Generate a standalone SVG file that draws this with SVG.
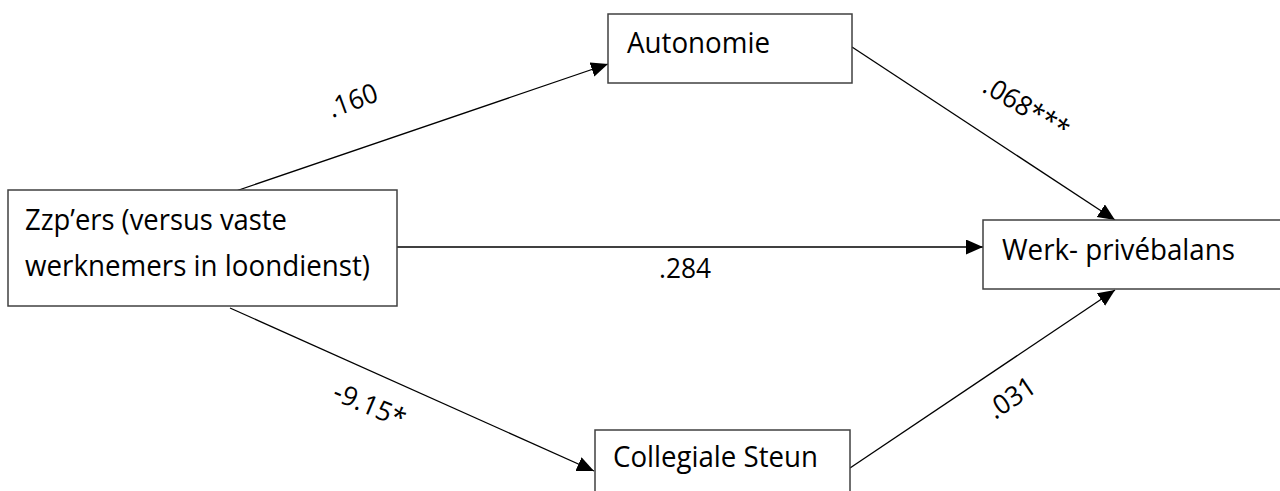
<svg xmlns="http://www.w3.org/2000/svg" width="1280" height="491" viewBox="0 0 1280 491">
<style>
.box{fill:#fff;stroke:#404040;stroke-width:1.5}
.txt{font-family:"Open Sans","Noto Sans",sans-serif;font-size:29px;fill:#000}
.lbl{font-family:"Open Sans","Noto Sans",sans-serif;font-size:27px;fill:#000}
.con{stroke:#000;stroke-width:1.3;fill:none;marker-end:url(#ah)}
</style>
<defs>
<marker id="ah" markerUnits="userSpaceOnUse" markerWidth="18" markerHeight="16" refX="17" refY="7.5" orient="auto">
<path d="M0,0 L17,7.5 L0,15 z" fill="#000"/>
</marker>
</defs>
<rect width="1280" height="491" fill="#fff"/>
<g id="connectors">
<line class="con" x1="230" y1="193" x2="608" y2="64"/>
<line class="con" x1="852" y1="47" x2="1115" y2="220"/>
<line class="con" x1="397" y1="247" x2="983" y2="247"/>
<line class="con" x1="230" y1="308" x2="594" y2="471"/>
<line class="con" x1="850" y1="468" x2="1115" y2="290"/>
</g>
<g id="zzp">
<rect class="box" x="8" y="190" width="389" height="116"/>
<text class="txt" x="25" y="230" textLength="262" lengthAdjust="spacingAndGlyphs">Zzp’ers (versus vaste</text>
<text class="txt" x="25" y="276" textLength="345" lengthAdjust="spacingAndGlyphs">werknemers in loondienst)</text>
</g>
<g id="autonomie">
<rect class="box" x="608" y="14" width="244" height="69"/>
<text class="txt" x="627" y="53" textLength="143" lengthAdjust="spacingAndGlyphs">Autonomie</text>
</g>
<g id="werk">
<rect class="box" x="983" y="220" width="310" height="69"/>
<text class="txt" x="1002" y="260" textLength="233" lengthAdjust="spacingAndGlyphs">Werk- privébalans</text>
</g>
<g id="collegiale">
<rect class="box" x="595" y="430" width="255" height="80"/>
<text class="txt" x="613" y="467" textLength="205" lengthAdjust="spacingAndGlyphs">Collegiale Steun</text>
</g>
<g id="labels">
<text class="lbl" transform="translate(332,118) rotate(-20)" textLength="51" lengthAdjust="spacingAndGlyphs">.160</text>
<text class="lbl" transform="translate(981,91) rotate(31)" textLength="95" lengthAdjust="spacingAndGlyphs">.068***</text>
<text class="lbl" x="659" y="278" textLength="52" lengthAdjust="spacingAndGlyphs">.284</text>
<text class="lbl" transform="translate(331,399) rotate(23)" textLength="76" lengthAdjust="spacingAndGlyphs">-9.15*</text>
<text class="lbl" transform="translate(995,420) rotate(-34)" textLength="52" lengthAdjust="spacingAndGlyphs">.031</text>
</g>
</svg>
